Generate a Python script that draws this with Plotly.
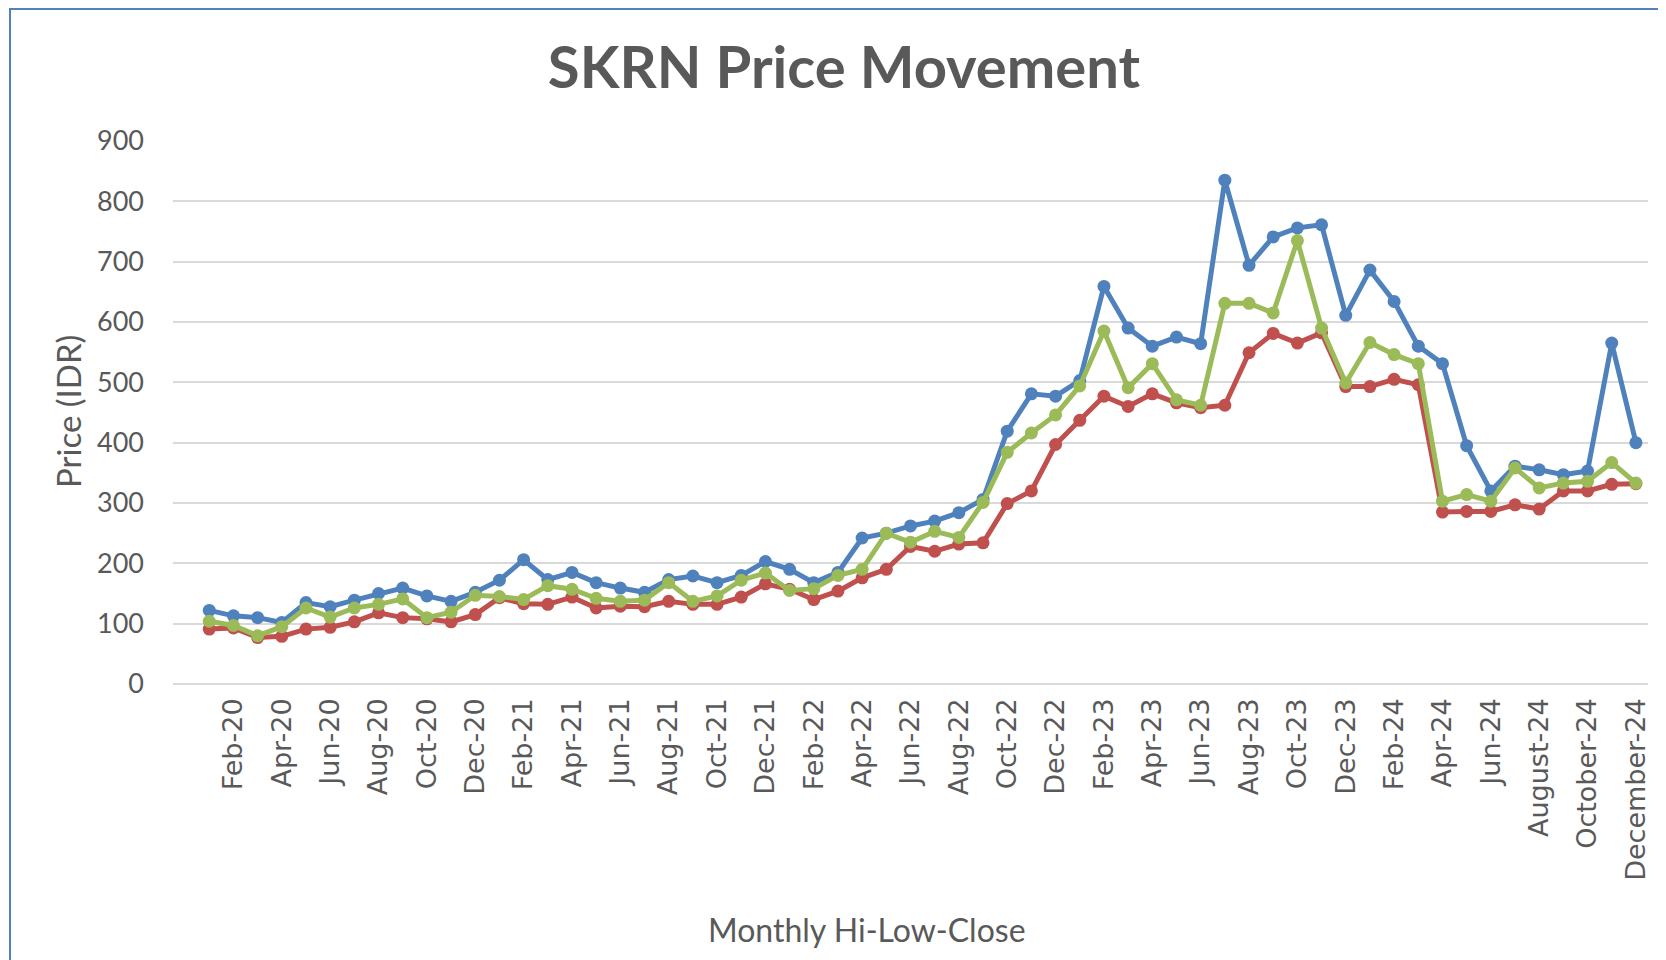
import plotly.graph_objects as go

months = [
    "Jan-20", "Feb-20", "Mar-20", "Apr-20", "May-20", "Jun-20", "Jul-20", "Aug-20", "Sep-20", "Oct-20", "Nov-20", "Dec-20",
    "Jan-21", "Feb-21", "Mar-21", "Apr-21", "May-21", "Jun-21", "Jul-21", "Aug-21", "Sep-21", "Oct-21", "Nov-21", "Dec-21",
    "Jan-22", "Feb-22", "Mar-22", "Apr-22", "May-22", "Jun-22", "Jul-22", "Aug-22", "Sep-22", "Oct-22", "Nov-22", "Dec-22",
    "Jan-23", "Feb-23", "Mar-23", "Apr-23", "May-23", "Jun-23", "Jul-23", "Aug-23", "Sep-23", "Oct-23", "Nov-23", "Dec-23",
    "Jan-24", "Feb-24", "Mar-24", "Apr-24", "May-24", "Jun-24", "July-24", "August-24", "September-24", "October-24",
    "November-24", "December-24",
]

high = [122, 113, 110, 102, 135, 128, 139, 150, 159, 146, 137, 152,
        172, 206, 173, 185, 168, 159, 152, 173, 179, 168, 180, 203,
        190, 168, 185, 242, 250, 262, 270, 284, 306, 419, 481, 477,
        503, 659, 590, 560, 575, 564, 835, 694, 741, 756, 761, 611,
        686, 634, 560, 531, 395, 320, 361, 355, 347, 353, 565, 400]

low = [91, 93, 77, 79, 91, 94, 103, 118, 110, 108, 103, 115,
       143, 133, 132, 144, 126, 129, 128, 137, 132, 132, 144, 166,
       157, 140, 154, 176, 190, 228, 220, 232, 234, 299, 320, 397,
       437, 477, 460, 481, 466, 458, 462, 549, 581, 565, 582, 493,
       493, 505, 496, 285, 286, 286, 297, 290, 320, 320, 331, 332]

close = [104, 97, 80, 95, 126, 111, 126, 132, 141, 110, 119, 147,
         145, 140, 163, 157, 142, 137, 139, 168, 137, 146, 172, 184,
         155, 158, 180, 190, 250, 235, 253, 243, 301, 384, 416, 446,
         494, 585, 491, 531, 471, 462, 631, 631, 615, 735, 590, 499,
         566, 546, 531, 303, 314, 303, 358, 325, 333, 336, 367, 333]

tick_labels = months[1::2]
y_ticks = list(range(0, 901, 100))

series = [("High", high, "#4F81BD"), ("Low", low, "#C0504D"), ("Close", close, "#9BBB59")]

fig = go.Figure()
for name, vals, color in series:
    fig.add_trace(go.Scatter(
        x=months, y=vals, name=name, mode="lines+markers",
        line=dict(color=color, width=5),
        marker=dict(color=color, size=13),
    ))

# page body adds an 8px offset; figure coordinates are page coordinates minus 8
W, H = 1658, 952
L, R, T, B = 165, 18, 133, 276
pw, ph = W - L - R, H - T - B

def px_to_paper(px, py):
    return (px - L) / pw, (H - B - py) / ph

gray = "#595959"
fig.update_layout(
    width=W, height=H,
    margin=dict(l=L, r=R, t=T, b=B),
    paper_bgcolor="white", plot_bgcolor="white",
    showlegend=False,
    title=dict(text="<b>SKRN Price Movement</b>", x=836 / W, xanchor="center",
               y=1 - 60 / H, yanchor="middle", xref="container", yref="container",
               font=dict(family="Lato", size=58, color=gray)),
    xaxis=dict(
        type="category", range=[-1.5, len(months) - 0.5],
        tickmode="array", tickvals=tick_labels, ticktext=tick_labels,
        tickangle=-90, tickfont=dict(family="DejaVu Sans", size=27, color=gray),
        showgrid=False, zeroline=False, showline=False, ticks="",
        ticklabelstandoff=8,
    ),
    yaxis=dict(
        range=[0, 900], tickmode="array", tickvals=y_ticks,
        tickfont=dict(family="Lato", size=27, color=gray),
        showgrid=True, gridcolor="#D9D9D9", gridwidth=2,
        zeroline=True, zerolinecolor="#D9D9D9", zerolinewidth=2,
        showline=False, ticks="", ticklabelstandoff=28,
    ),
)

xt_x, xt_y = px_to_paper(859, 921)
yt_x, yt_y = px_to_paper(60, 404)
fig.add_annotation(text="Monthly Hi-Low-Close", x=xt_x, y=xt_y, xref="paper", yref="paper",
                   showarrow=False, xanchor="center", yanchor="middle",
                   font=dict(family="Lato", size=32, color=gray))
fig.add_annotation(text="Price (IDR)", x=yt_x, y=yt_y, xref="paper", yref="paper",
                   showarrow=False, xanchor="center", yanchor="middle", textangle=-90,
                   font=dict(family="Lato", size=33, color=gray))

bx0, by0 = px_to_paper(2, 1)
bx1, by1 = px_to_paper(W + 20, H + 20)
fig.add_shape(type="rect", xref="paper", yref="paper", x0=bx0, y0=by1, x1=bx1, y1=by0,
              line=dict(color="#4F81BD", width=2), fillcolor="rgba(0,0,0,0)", layer="below")

fig.write_html("out.html")
